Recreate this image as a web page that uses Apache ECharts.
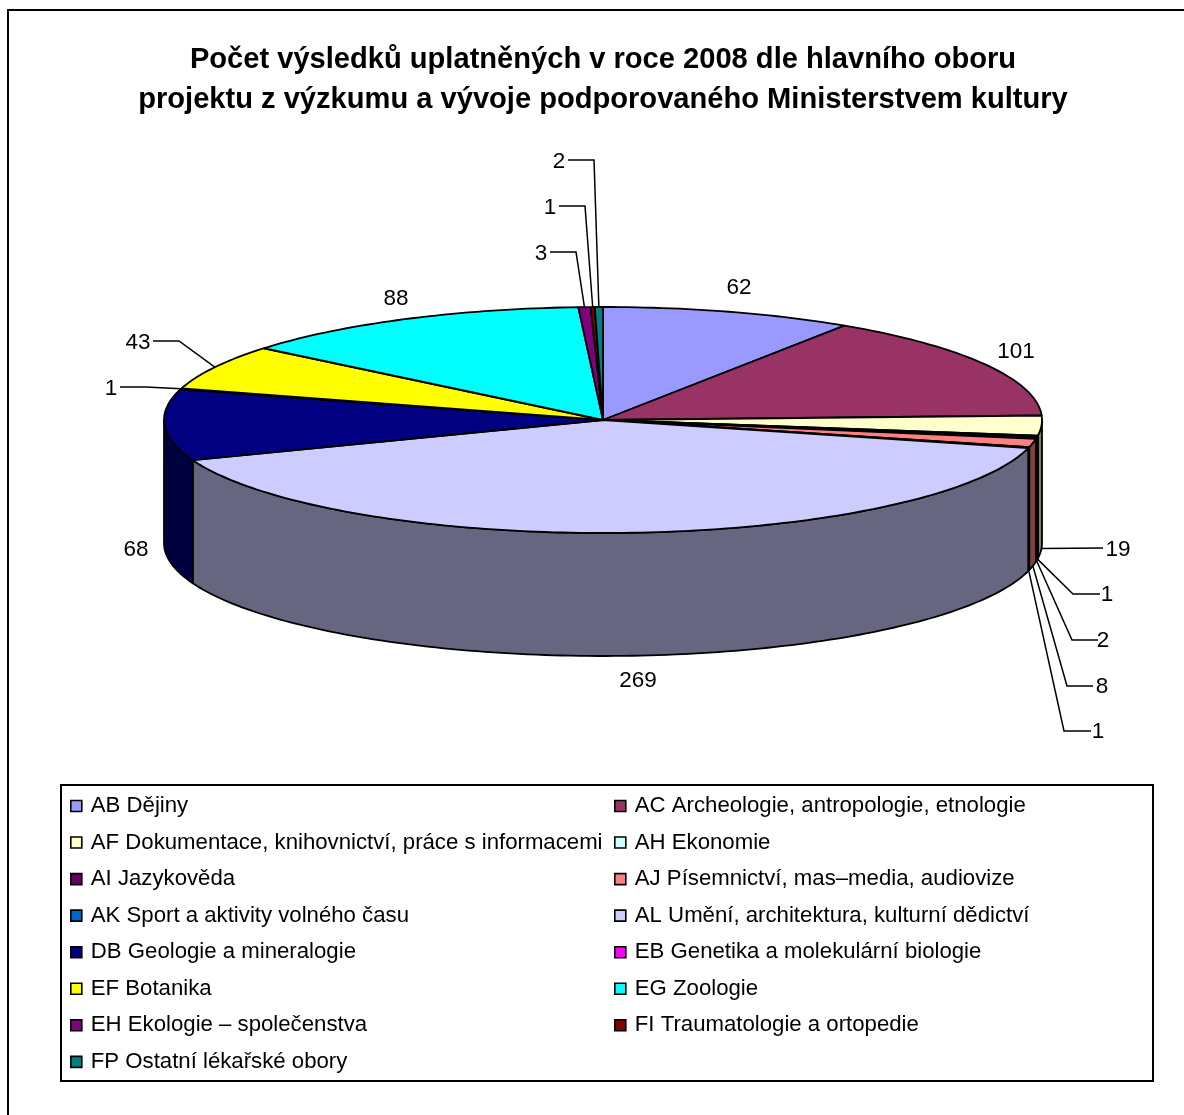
<!DOCTYPE html>
<html><head><meta charset="utf-8">
<style>html,body{margin:0;padding:0;background:#fff}#c{width:1184px;height:1115px}</style>
<script src="https://cdn.jsdelivr.net/npm/echarts@6/dist/echarts.min.js"></script>
</head><body><div id="c"></div>
<script>
const titleText = "Počet výsledků uplatněných v roce 2008 dle hlavního oboru\nprojektu z výzkumu a vývoje podporovaného Ministerstvem kultury";
const categories = [
  "AB Dějiny","AC Archeologie, antropologie, etnologie",
  "AF Dokumentace, knihovnictví, práce s informacemi","AH Ekonomie",
  "AI Jazykověda","AJ Písemnictví, mas–media, audiovize",
  "AK Sport a aktivity volného času","AL Umění, architektura, kulturní dědictví",
  "DB Geologie a mineralogie","EB Genetika a molekulární biologie",
  "EF Botanika","EG Zoologie",
  "EH Ekologie – společenstva","FI Traumatologie a ortopedie",
  "FP Ostatní lékařské obory"];
const values = [62,101,19,1,2,8,1,269,68,1,43,88,3,1,2];
const colors = ["#9999FF","#993366","#FFFFCC","#CCFFFF","#660066","#FF8080","#0066CC","#CCCCFF","#000080","#FF00FF","#FFFF00","#00FFFF","#800080","#800000","#008080"];

// Layout only: pie projection and label placement
const pie = {cx:603, cy:420, rx:439, ry:113, depth:123};
const labelPos = [
  {x:739,y:288},{x:1016,y:352},
  {x:1118,y:550,line:[[1103,548]]},
  {x:1107,y:595,line:[[1073,594],[1100,594]]},
  {x:1103,y:641,line:[[1072,640],[1098,640]]},
  {x:1102,y:687,line:[[1067,686],[1093,686]]},
  {x:1098,y:732,line:[[1064,731],[1091,731]]},
  {x:638,y:681},{x:136,y:550},
  {x:111,y:389,line:[[146,387],[120,387]]},
  {x:138,y:343,line:[[179,341],[153,341]]},
  {x:396,y:299},
  {x:541,y:254,line:[[576,252],[550,252]]},
  {x:550,y:208,line:[[585,206],[559,206]]},
  {x:559,y:162,line:[[594,160],[568,160]]}
];

const total = values.reduce((a,b)=>a+b,0);
const starts = []; values.reduce((acc,v,i)=>{starts[i]=acc;return acc+v;},0);
const ang = v => v/total*2*Math.PI;
const pt = (t,dy=0) => [pie.cx+pie.rx*Math.sin(t), pie.cy-pie.ry*Math.cos(t)+dy];
function arc(t0,t1,dy){const n=Math.max(2,Math.ceil((t1-t0)/0.02));const a=[];for(let k=0;k<=n;k++)a.push(pt(t0+(t1-t0)*k/n,dy));return a;}
function dark(hex){const n=parseInt(hex.slice(1),16);const f=c=>Math.round(c/2);return `rgb(${f(n>>16&255)},${f(n>>8&255)},${f(n&255)})`;}

function renderSlice(params,api){
  const i=params.seriesIndex, v=api.value(0);
  const t0=ang(starts[i]), t1=ang(starts[i]+v), mid=(t0+t1)/2, col=api.visual('color');
  const kids=[];
  const a=Math.max(t0,Math.PI/2), b=Math.min(t1,Math.PI*3/2);
  if(b>a){
    kids.push({type:'polygon',shape:{points:arc(a,b,0).concat(arc(a,b,pie.depth).reverse())},
      style:{fill:dark(colors[i]),stroke:'#000',lineWidth:1.8,lineJoin:'round'}});
  }
  kids.push({type:'polygon',shape:{points:[[pie.cx,pie.cy]].concat(arc(t0,t1,0))},
    style:{fill:col,stroke:'#000',lineWidth:1.8,lineJoin:'round'}});
  const L=labelPos[i];
  if(L.line){
    const front=Math.cos(mid)<0;
    const start=pt(mid,front?pie.depth:0);
    kids.push({type:'polyline',shape:{points:[start].concat(L.line)},style:{fill:null,stroke:'#000',lineWidth:1.5}});
  }
  kids.push({type:'text',style:{text:String(v),x:L.x,y:L.y,fill:'#000',align:'center',verticalAlign:'middle',
    font:'22.5px "Liberation Sans", Arial, sans-serif'}});
  return {type:'group',children:kids};
}

const series = categories.map((name,i)=>({
  type:'custom',name,coordinateSystem:'none',data:[[values[i]]],renderItem:renderSlice,
  itemStyle:{color:colors[i]},clip:false,animation:false,silent:true
}));
const legendBase = {orient:'vertical',icon:'rect',itemWidth:11,itemHeight:11,itemGap:14.55,selectedMode:false,
  padding:0,itemStyle:{borderColor:'#000',borderWidth:1.6},
  textStyle:{fontFamily:'"Liberation Sans", Arial, sans-serif',fontSize:22.2,color:'#000',lineHeight:21,padding:[1,0,0,4]}};
const option = {
  animation:false,backgroundColor:'#fff',
  title:{text:titleText,left:598,top:35,textAlign:'center',
    textStyle:{fontFamily:'"Liberation Sans", Arial, sans-serif',fontWeight:'bold',fontSize:29.1,lineHeight:40,color:'#000'}},
  legend:[
    Object.assign({},legendBase,{left:70,top:795,data:categories.filter((_,i)=>i%2===0)}),
    Object.assign({},legendBase,{left:614,top:795,data:categories.filter((_,i)=>i%2===1)})
  ],
  graphic:[
    {type:'rect',z:-10,silent:true,shape:{x:8,y:10,width:1300,height:1300},style:{fill:'#fff',stroke:'#000',lineWidth:2}},
    {type:'rect',z:-9,silent:true,shape:{x:61,y:785,width:1092,height:296},style:{fill:'#fff',stroke:'#000',lineWidth:2}}
  ],
  series
};
const chart = echarts.init(document.getElementById('c'),null,{renderer:'canvas'});
chart.setOption(option);
</script></body></html>
